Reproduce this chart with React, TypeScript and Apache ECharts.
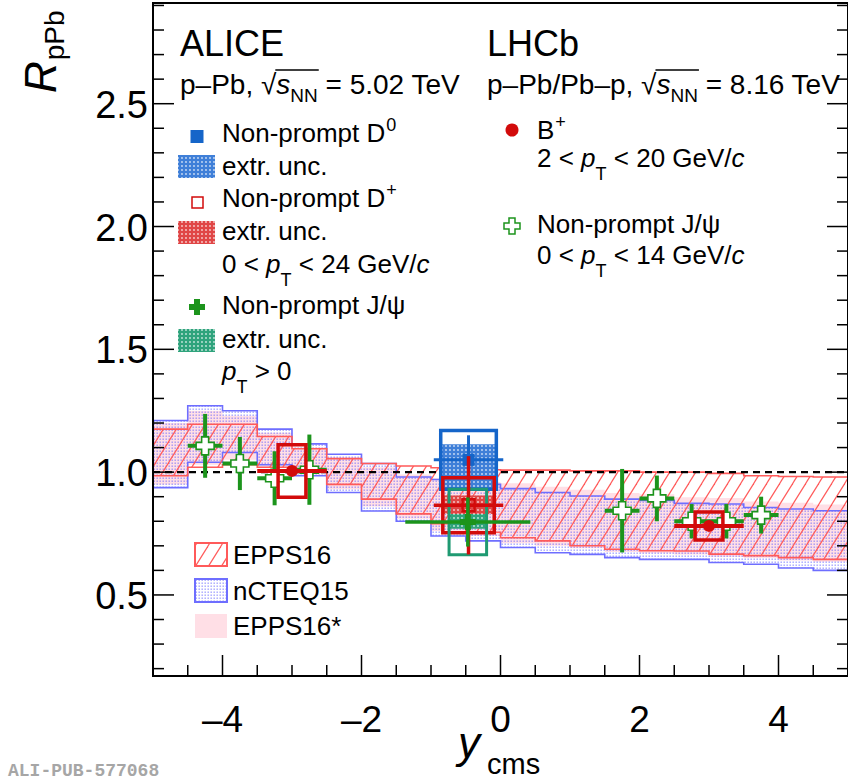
import React, { useEffect, useRef } from 'react';
import * as echarts from 'echarts';

// ---------------- data ----------------
const binEdges = [-5, -4.5, -4, -3.5, -3, -2.5, -2, -1.5, -1, -0.5, 0, 0.5, 1, 1.5, 2, 2.5, 3, 3.5, 4, 4.5, 5];
const epps16Hi = [1.175, 1.195, 1.195, 1.145, 1.095, 1.055, 1.035, 1.025, 1.018, 1.01, 1.008, 1.008, 1.005, 1.005, 1.0, 1.0, 0.995, 0.985, 0.982, 0.98];
const epps16Lo = [0.985, 1.02, 1.03, 1.02, 1.0, 0.95, 0.89, 0.83, 0.79, 0.755, 0.733, 0.72, 0.7, 0.686, 0.68, 0.679, 0.666, 0.66, 0.652, 0.645];
const ncteq15Hi = [1.21, 1.27, 1.25, 1.175, 1.115, 1.073, 1.035, 0.98, 0.97, 0.95, 0.933, 0.917, 0.903, 0.89, 0.885, 0.873, 0.87, 0.856, 0.85, 0.843];
const ncteq15Lo = [0.937, 1.04, 1.08, 1.03, 0.985, 0.917, 0.842, 0.8, 0.74, 0.72, 0.693, 0.672, 0.665, 0.652, 0.645, 0.645, 0.632, 0.625, 0.61, 0.6];
const epps16StarHi = [1.2, 1.25, 1.23, 1.16, 1.1, 1.06, 1.02, 0.99, 0.975, 0.96, 0.955, 0.94, 0.928, 0.915, 0.91, 0.898, 0.895, 0.88, 0.875, 0.868];
const epps16StarLo = [0.95, 1.03, 1.05, 1.02, 0.99, 0.93, 0.86, 0.81, 0.76, 0.74, 0.71, 0.7, 0.69, 0.675, 0.67, 0.665, 0.655, 0.65, 0.64, 0.635];

const lhcbJpsiY = [-4.25, -3.75, -3.25, -2.75, 1.75, 2.25, 2.75, 3.25, 3.75];
const lhcbJpsiR = [1.107, 1.035, 0.975, 1.01, 0.843, 0.893, 0.8, 0.8, 0.825];
const lhcbJpsiErr = [0.13, 0.108, 0.11, 0.143, 0.17, 0.093, 0.07, 0.07, 0.075];
const lhcbJpsiHalfBin = [0.25, 0.25, 0.25, 0.25, 0.25, 0.25, 0.25, 0.25, 0.25];

const lhcbBY = [-3.0, 3.0];
const lhcbBR = [1.005, 0.781];
const lhcbBStat = [0.02, 0.02];
const lhcbBSys = [0.107, 0.057];
const lhcbBHalfBin = [0.5, 0.5];

const aliceNames = ['Non-prompt D0', 'Non-prompt D+', 'Non-prompt J/psi'];
const aliceY = [-0.46, -0.46, -0.47];
const aliceYHalf = [0.5, 0.5, 0.9];
const aliceR = [1.05, 0.865, 0.797];
const aliceStat = [0.1, 0.2, 0.1];
const aliceSys = [0.12, 0.112, 0.133];
const aliceExtrLo = [0.932, 0.83, 0.77];
const aliceExtrHi = [1.114, 0.905, 0.83];

const yMajorTicks = [0.5, 1.0, 1.5, 2.0, 2.5];
const yTickLabels = ['0.5', '1.0', '1.5', '2.0', '2.5'];
const yMinorTicks = [0.2, 0.3, 0.4, 0.6, 0.7, 0.8, 0.9, 1.1, 1.2, 1.3, 1.4, 1.6, 1.7, 1.8, 1.9, 2.1, 2.2, 2.3, 2.4, 2.6, 2.7, 2.8, 2.9];
const xMajorTicks = [-4, -2, 0, 2, 4];
const xTickLabels = ['\u20134', '\u20132', '0', '2', '4'];
const xMinorTicks = [-4.5, -3.5, -3, -2.5, -1.5, -1, -0.5, 0.5, 1, 1.5, 2.5, 3, 3.5, 4.5];

const X_MIN = -5, X_MAX = 5, Y_MIN = 0.17, Y_MAX = 2.91;

// ---------------- style ----------------
const FONT = '"Liberation Sans", Arial, Helvetica, sans-serif';
const BLUE = '#1565c9';
const RED = '#d20b0b';
const GREEN = '#1c941c';
const TEAL = '#1f9a72';
const BAND_RED = '#ff5a5a';
const BAND_BLUE = '#6e6eff';
const PINK = '#ffdfe6';
const BOX_HALF = [0.4, 0.37, 0.27];

const svgUrl = (w: number, h: number, body: string) =>
  'data:image/svg+xml;charset=utf-8,' +
  encodeURIComponent(`<svg xmlns="http://www.w3.org/2000/svg" width="${w}" height="${h}">${body}</svg>`);

const pat = (w: number, h: number, body: string) => ({ image: svgUrl(w, h, body), repeat: 'repeat', imageWidth: w, imageHeight: h });

const hatchBody = [-13, 0, 13]
  .map((o) => `<line x1="${o - 1}" y1="${21 + 21 / 13}" x2="${o + 14}" y2="${-21 / 13}" stroke="${BAND_RED}" stroke-width="1.2"/>`)
  .join('');
const HATCH_RED = pat(13, 21, hatchBody);
const DOTS_BLUE = pat(3, 3, `<rect x="0.5" y="0.5" width="1.4" height="1.4" fill="#5050ff" fill-opacity="0.55"/>`);
const dense = (c: string) => pat(4, 4, `<rect width="4" height="4" fill="${c}"/><circle cx="2" cy="2" r="0.9" fill="#ffffff" fill-opacity="0.75"/>`);
const EXTR_BLUE = dense('#3f7fd8');
const EXTR_RED = dense('#e04646');
const EXTR_GREEN = dense('#2fa37c');
const EXTR = [EXTR_BLUE, EXTR_RED, EXTR_GREEN];

let mctx: any = null;
function tw(text: string, size: number, italic = false) {
  if (!mctx) mctx = document.createElement('canvas').getContext('2d');
  mctx.font = `${italic ? 'italic ' : ''}${size}px ${FONT}`;
  return mctx.measureText(text).width;
}
type Part = { t: string; s: number; dy?: number; it?: boolean; dx?: number };
function rich(x0: number, base: number, parts: Part[], fill = '#000') {
  let x = x0;
  const els: any[] = [];
  const ends: number[] = [];
  for (const p of parts) {
    x += p.dx || 0;
    const lead = (p.t.match(/^ */) as any)[0];
    const core = p.t.trim();
    const lx = x + (lead ? tw(lead, p.s, p.it) : 0);
    if (core)
      els.push({
        type: 'text', x: lx, y: base + (p.dy || 0) - 0.3465 * p.s, silent: true, z: 100,
        style: { text: core, fontSize: p.s, fontFamily: FONT, fontStyle: p.it ? 'italic' : 'normal', fill, align: 'left', verticalAlign: 'middle' },
      });
    x += tw(p.t, p.s, p.it);
    ends.push(x);
  }
  return { els, ends };
}
function crossPts(cx: number, cy: number, h: number, a: number) {
  return [
    [cx - a, cy - h], [cx + a, cy - h], [cx + a, cy - a], [cx + h, cy - a], [cx + h, cy + a], [cx + a, cy + a],
    [cx + a, cy + h], [cx - a, cy + h], [cx - a, cy + a], [cx - h, cy + a], [cx - h, cy - a], [cx - a, cy - a],
  ];
}
const seg = (p: number[], q: number[], stroke: string, w: number) => ({
  type: 'line', shape: { x1: p[0], y1: p[1], x2: q[0], y2: q[1] }, style: { stroke, lineWidth: w },
});
const boxEl = (api: any, x0: number, x1: number, y0: number, y1: number, style: any) => {
  const a = api.coord([x0, y1]);
  const b = api.coord([x1, y0]);
  return { type: 'rect', shape: { x: a[0], y: a[1], width: b[0] - a[0], height: b[1] - a[1] }, style };
};

function bandSeries(name: string, lo: number[], hi: number[], fill: any, stroke: string | null, z: number) {
  return {
    type: 'custom', name, z, clip: true, silent: true,
    data: [[X_MIN, Y_MIN]],
    renderItem: (_p: any, api: any) => {
      const up: number[][] = [];
      const dn: number[][] = [];
      for (let i = 0; i < hi.length; i++) {
        up.push(api.coord([binEdges[i], hi[i]]), api.coord([binEdges[i + 1], hi[i]]));
        dn.push(api.coord([binEdges[i], lo[i]]), api.coord([binEdges[i + 1], lo[i]]));
      }
      const children: any[] = [{ type: 'polygon', shape: { points: up.concat(dn.slice().reverse()) }, style: { fill, stroke: null } }];
      if (stroke) {
        children.push({ type: 'polyline', shape: { points: up }, style: { stroke, lineWidth: 1.6, fill: null } });
        children.push({ type: 'polyline', shape: { points: dn }, style: { stroke, lineWidth: 1.6, fill: null } });
      }
      return { type: 'group', children };
    },
  };
}

function buildOption() {
  const series: any[] = [];
  series.push(bandSeries('EPPS16*', epps16StarLo, epps16StarHi, PINK, null, 1));
  series.push(bandSeries('nCTEQ15', ncteq15Lo, ncteq15Hi, DOTS_BLUE, BAND_BLUE, 2));
  series.push(bandSeries('EPPS16', epps16Lo, epps16Hi, HATCH_RED, BAND_RED, 3));

  // reference line at unity
  series.push({
    type: 'custom', name: 'unity', z: 4, clip: true, silent: true, data: [[X_MIN, 1]],
    renderItem: (_p: any, api: any) => {
      const a = api.coord([X_MIN, api.value(1)]);
      const b = api.coord([X_MAX, api.value(1)]);
      return { type: 'line', shape: { x1: a[0], y1: a[1], x2: b[0], y2: b[1] }, style: { stroke: '#000', lineWidth: 2.4, lineDash: [7, 5] } };
    },
  });

  // LHCb non-prompt J/psi
  series.push({
    type: 'custom', name: 'LHCb non-prompt J/psi', z: 10, clip: true, silent: true,
    data: lhcbJpsiY.map((y, i) => [y, lhcbJpsiR[i], lhcbJpsiErr[i], lhcbJpsiHalfBin[i]]),
    renderItem: (_p: any, api: any) => {
      const y = api.value(0), r = api.value(1), e = api.value(2), h = api.value(3);
      const c = api.coord([y, r]);
      return {
        type: 'group', children: [
          seg(api.coord([y - h, r]), api.coord([y + h, r]), GREEN, 4),
          seg(api.coord([y, r + e]), api.coord([y, r - e]), GREEN, 4),
          { type: 'polygon', shape: { points: crossPts(c[0], c[1], 9, 3.5) }, style: { fill: '#fff', stroke: GREEN, lineWidth: 1.6 } },
        ],
      };
    },
  });

  // LHCb B+
  series.push({
    type: 'custom', name: 'LHCb B+', z: 11, clip: true, silent: true,
    data: lhcbBY.map((y, i) => [y, lhcbBR[i], lhcbBStat[i], lhcbBSys[i], lhcbBHalfBin[i]]),
    renderItem: (_p: any, api: any) => {
      const y = api.value(0), r = api.value(1), st = api.value(2), sy = api.value(3), h = api.value(4);
      const c = api.coord([y, r]);
      return {
        type: 'group', children: [
          boxEl(api, y - 0.2, y + 0.2, r - sy, r + sy, { fill: null, stroke: RED, lineWidth: 3.5 }),
          seg(api.coord([y - h, r]), api.coord([y + h, r]), RED, 4),
          seg(api.coord([y, r + st]), api.coord([y, r - st]), RED, 4),
          { type: 'circle', shape: { cx: c[0], cy: c[1], r: 6 }, style: { fill: RED } },
        ],
      };
    },
  });

  // ALICE extrapolation uncertainties
  series.push({
    type: 'custom', name: 'ALICE extr. unc.', z: 12, clip: true, silent: true,
    data: aliceY.map((y, i) => [y, aliceExtrLo[i], aliceExtrHi[i], i]),
    renderItem: (_p: any, api: any) => {
      const y = api.value(0), i = api.value(3);
      return boxEl(api, y - BOX_HALF[i], y + BOX_HALF[i], api.value(1), api.value(2), { fill: EXTR[i], stroke: null });
    },
  });
  // ALICE systematic boxes
  const boxColors = [BLUE, RED, TEAL];
  series.push({
    type: 'custom', name: 'ALICE syst.', z: 13, clip: true, silent: true,
    data: aliceY.map((y, i) => [y, aliceR[i], aliceSys[i], i]),
    renderItem: (_p: any, api: any) => {
      const y = api.value(0), r = api.value(1), s = api.value(2), i = api.value(3);
      return boxEl(api, y - BOX_HALF[i], y + BOX_HALF[i], r - s, r + s, { fill: null, stroke: boxColors[i], lineWidth: i === 2 ? 3 : 3.5 });
    },
  });
  // ALICE points
  const ptColors = [BLUE, RED, GREEN];
  series.push({
    type: 'custom', name: 'ALICE points', z: 14, clip: true, silent: true,
    data: aliceY.map((y, i) => [y, aliceR[i], aliceStat[i], aliceYHalf[i], i]),
    renderItem: (_p: any, api: any) => {
      const y = api.value(0), r = api.value(1), st = api.value(2), h = api.value(3), i = api.value(4);
      const col = ptColors[i];
      const c = api.coord([y, r]);
      const ch: any[] = [
        seg(api.coord([y - h, r]), api.coord([y + h, r]), col, i === 0 ? 3 : 3.5),
        seg(api.coord([y, r + st]), api.coord([y, r - st]), col, i === 0 ? 3 : 3.5),
      ];
      if (i === 0) ch.push({ type: 'rect', shape: { x: c[0] - 6, y: c[1] - 6, width: 12, height: 12 }, style: { fill: col } });
      if (i === 1) ch.push({ type: 'rect', shape: { x: c[0] - 6, y: c[1] - 6, width: 12, height: 12 }, style: { fill: null, stroke: col, lineWidth: 2.5 } });
      if (i === 2) ch.push({ type: 'polygon', shape: { points: crossPts(c[0], c[1], 8, 3) }, style: { fill: col } });
      return { type: 'group', children: ch };
    },
  });

  // frame
  series.push({
    type: 'custom', name: 'frame', z: 50, clip: false, silent: true, data: [[X_MIN, Y_MIN]],
    renderItem: (_p: any, api: any) => boxEl(api, X_MIN, X_MAX, Y_MIN, Y_MAX, { fill: null, stroke: '#000', lineWidth: 2 }),
  });
  // x ticks + labels
  series.push({
    type: 'custom', name: 'x ticks', z: 51, clip: false, silent: true,
    data: xMajorTicks.map((v) => [v, Y_MIN, 1]).concat(xMinorTicks.map((v) => [v, Y_MIN, 0])),
    renderItem: (p: any, api: any) => {
      const v = api.value(0), major = api.value(2) === 1;
      const b = api.coord([v, Y_MIN]);
      const len = major ? 21 : 11;
      const ch: any[] = [seg([b[0], b[1]], [b[0], b[1] - len], '#000', 1.5)];
      if (major)
        ch.push({ type: 'text', x: b[0], y: b[1] + 43, style: { text: xTickLabels[p.dataIndex], fontSize: 37, fontFamily: FONT, fill: '#000', align: 'center', verticalAlign: 'middle' } });
      return { type: 'group', children: ch };
    },
  });
  // y ticks + labels
  series.push({
    type: 'custom', name: 'y ticks', z: 51, clip: false, silent: true,
    data: yMajorTicks.map((v) => [X_MIN, v, 1]).concat(yMinorTicks.map((v) => [X_MIN, v, 0])),
    renderItem: (p: any, api: any) => {
      const v = api.value(1), major = api.value(2) === 1;
      const l = api.coord([X_MIN, v]);
      const r = api.coord([X_MAX, v]);
      const len = major ? 21 : 11;
      const ch: any[] = [
        seg([l[0], l[1]], [l[0] + len, l[1]], '#000', 1.5),
        seg([r[0], r[1]], [r[0] - len, r[1]], '#000', 1.5),
      ];
      if (major)
        ch.push({ type: 'text', x: l[0] - 5, y: l[1] + 1, style: { text: yTickLabels[p.dataIndex], fontSize: 38, fontFamily: FONT, fill: '#000', align: 'right', verticalAlign: 'middle' } });
      return { type: 'group', children: ch };
    },
  });

  // ---------------- texts & legends (graphic) ----------------
  const g: any[] = [];
  const add = (r: { els: any[] }) => g.push(...r.els);
  const SUB = 18;

  // axis titles
  g.push({ type: 'group', x: 56, y: 93, rotation: Math.PI / 2, children: rich(0, 0, [{ t: 'R', s: 44, it: true }, { t: 'pPb', s: 28, dy: 8, dx: 1 }]).els });
  add(rich(458, 758, [{ t: 'y', s: 44, it: true }, { t: 'cms', s: 29, dy: 16, dx: 7 }]));
  g.push({ type: 'text', x: 8, y: 771, silent: true, style: { text: 'ALI-PUB-577068', fontSize: 18, fontFamily: '"Liberation Mono", monospace', fontWeight: 'bold', fill: '#a6a6a6', align: 'left', verticalAlign: 'middle' } });

  // headers
  add(rich(180, 56, [{ t: 'ALICE', s: 36 }]));
  add(rich(487, 56, [{ t: 'LHCb', s: 36 }]));
  const H = 28;
  const h1 = rich(180, 94, [{ t: 'p\u2013Pb, ', s: H }, { t: '\u221A', s: H }, { t: 's', s: H, it: true }, { t: 'NN', s: 19, dy: 8 }, { t: ' = 5.02 TeV', s: H }]);
  add(h1);
  g.push({ type: 'line', silent: true, shape: { x1: h1.ends[1] - 1, y1: 94 - 24, x2: h1.ends[3] + 1, y2: 94 - 24 }, style: { stroke: '#000', lineWidth: 1.5 } });
  const h2 = rich(487, 94, [{ t: 'p\u2013Pb/Pb\u2013p, ', s: H }, { t: '\u221A', s: H }, { t: 's', s: H, it: true }, { t: 'NN', s: 19, dy: 8 }, { t: ' = 8.16 TeV', s: H }]);
  add(h2);
  g.push({ type: 'line', silent: true, shape: { x1: h2.ends[1] - 1, y1: 94 - 24, x2: h2.ends[3] + 1, y2: 94 - 24 }, style: { stroke: '#000', lineWidth: 1.5 } });

  // ALICE legend
  const L = 26;
  const LX = 222;
  g.push({ type: 'rect', silent: true, shape: { x: 190.5, y: 130, width: 13, height: 13 }, style: { fill: BLUE } });
  add(rich(LX, 142, [{ t: 'Non-prompt D', s: L }, { t: '0', s: SUB, dy: -11, dx: 1 }]));
  g.push({ type: 'rect', silent: true, shape: { x: 178, y: 155, width: 37, height: 23 }, style: { fill: EXTR_BLUE } });
  add(rich(LX, 175, [{ t: 'extr. unc.', s: L }]));
  g.push({ type: 'rect', silent: true, shape: { x: 192, y: 197, width: 11, height: 11 }, style: { fill: null, stroke: RED, lineWidth: 1.5 } });
  add(rich(LX, 207, [{ t: 'Non-prompt D', s: L }, { t: '+', s: SUB, dy: -11, dx: 1 }]));
  g.push({ type: 'rect', silent: true, shape: { x: 178, y: 221, width: 37, height: 23 }, style: { fill: EXTR_RED } });
  add(rich(LX, 240, [{ t: 'extr. unc.', s: L }]));
  add(rich(LX, 273, [{ t: '0 < ', s: L }, { t: 'p', s: L, it: true }, { t: 'T', s: SUB, dy: 13 }, { t: ' < 24 GeV/', s: L }, { t: 'c', s: L, it: true }]));
  g.push({ type: 'polygon', silent: true, shape: { points: crossPts(197, 307, 8, 3) }, style: { fill: GREEN } });
  add(rich(LX, 314, [{ t: 'Non-prompt J/\u03C8', s: L }]));
  g.push({ type: 'rect', silent: true, shape: { x: 178, y: 329, width: 37, height: 23 }, style: { fill: EXTR_GREEN } });
  add(rich(LX, 348, [{ t: 'extr. unc.', s: L }]));
  add(rich(LX, 380, [{ t: 'p', s: L, it: true }, { t: 'T', s: SUB, dy: 13 }, { t: ' > 0', s: L }]));

  // LHCb legend
  const RX = 537;
  g.push({ type: 'circle', silent: true, shape: { cx: 512, cy: 130, r: 6.5 }, style: { fill: RED } });
  add(rich(RX, 139, [{ t: 'B', s: L }, { t: '+', s: SUB, dy: -11, dx: 1 }]));
  add(rich(RX, 167, [{ t: '2 < ', s: L }, { t: 'p', s: L, it: true }, { t: 'T', s: SUB, dy: 13 }, { t: ' < 20 GeV/', s: L }, { t: 'c', s: L, it: true }]));
  g.push({ type: 'polygon', silent: true, shape: { points: crossPts(512, 226, 8, 3) }, style: { fill: '#fff', stroke: GREEN, lineWidth: 1.5 } });
  add(rich(RX, 233, [{ t: 'Non-prompt J/\u03C8', s: L }]));
  add(rich(RX, 264, [{ t: '0 < ', s: L }, { t: 'p', s: L, it: true }, { t: 'T', s: SUB, dy: 13 }, { t: ' < 14 GeV/', s: L }, { t: 'c', s: L, it: true }]));

  // model legend
  g.push({ type: 'rect', silent: true, shape: { x: 195, y: 543, width: 32, height: 23 }, style: { fill: HATCH_RED, stroke: BAND_RED, lineWidth: 2 } });
  add(rich(233, 564, [{ t: 'EPPS16', s: L }]));
  g.push({ type: 'rect', silent: true, shape: { x: 195, y: 579, width: 32, height: 23 }, style: { fill: DOTS_BLUE, stroke: BAND_BLUE, lineWidth: 2 } });
  add(rich(233, 600, [{ t: 'nCTEQ15', s: L }]));
  g.push({ type: 'rect', silent: true, shape: { x: 195, y: 614, width: 32, height: 24 }, style: { fill: PINK } });
  add(rich(233, 635, [{ t: 'EPPS16*', s: L }]));

  return {
    animation: false,
    backgroundColor: '#fff',
    grid: { left: 153, top: 3, right: -5, bottom: 108, show: false },
    xAxis: { type: 'value', min: X_MIN, max: X_MAX, show: false },
    yAxis: { type: 'value', min: Y_MIN, max: Y_MAX, show: false },
    series,
    graphic: g,
  };
}

export default function App() {
  const ref = useRef<HTMLDivElement>(null);
  useEffect(() => {
    const chart = echarts.init(ref.current as HTMLDivElement, null, { renderer: 'svg' });
    chart.setOption(buildOption() as any);
    return () => chart.dispose();
  }, []);
  return <div ref={ref} style={{ position: 'fixed', left: 0, top: 0, width: 848, height: 784, background: '#fff' }} />;
}
